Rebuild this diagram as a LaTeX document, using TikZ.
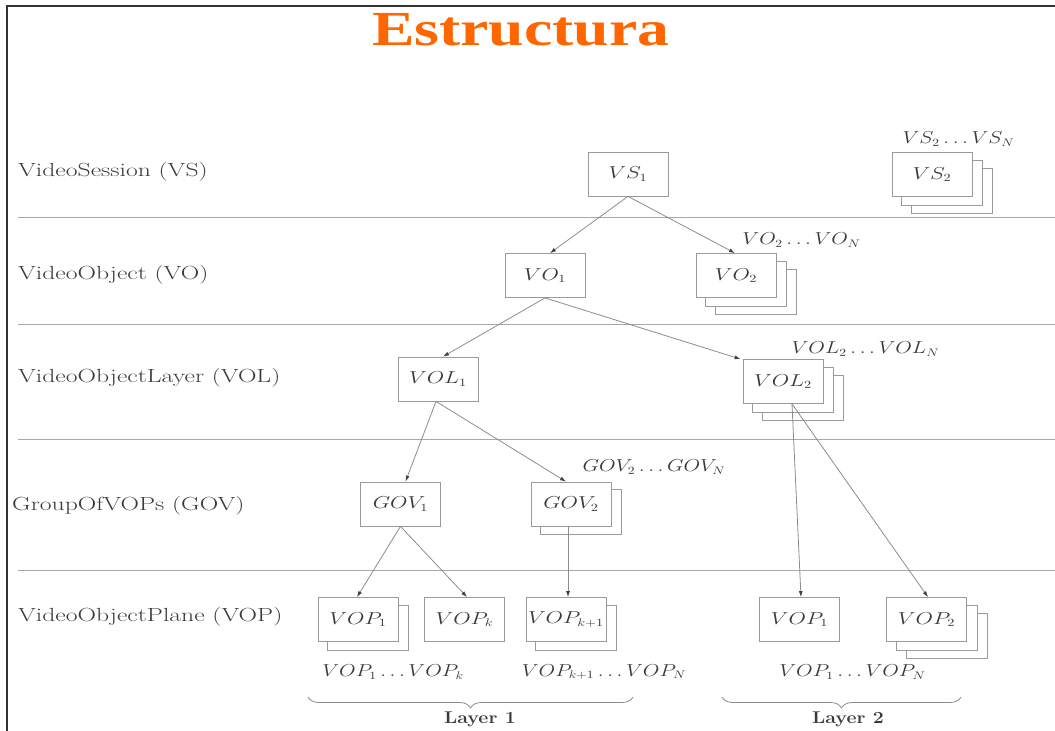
\documentclass[tikz,border=0pt]{standalone}
\usepackage{fontspec}
\usepackage{graphicx}
\newfontfamily\titlefont{Liberation Serif}
\usetikzlibrary{arrows.meta,decorations.pathreplacing,backgrounds}

\definecolor{titleorange}{HTML}{FF6600}
\definecolor{inkgray}{HTML}{3A3A3A}
\definecolor{rulegray}{HTML}{A8A8A8}
\definecolor{boxgray}{HTML}{9A9A9A}
\definecolor{linkgray}{HTML}{8C8C8C}
\definecolor{framegray}{HTML}{333333}

% horizontally widened text
\newcommand\wideText[2][1.3]{\scalebox{#1}[1]{#2}}

\tikzset{
  level/.style={anchor=west, inner sep=0pt, text=inkgray, font=\fontsize{19}{19}\selectfont},
  unit/.style={draw=boxgray, line width=0.8pt, fill=white, minimum width=80pt,
               minimum height=44pt, inner sep=0pt, text=inkgray, font=\fontsize{16}{16}\selectfont},
  backsheet/.style={draw=boxgray, line width=0.8pt, fill=white},
  spanlabel/.style={inner sep=0pt, text=inkgray, font=\fontsize{16}{16}\selectfont},
  sep/.style={draw=rulegray, line width=0.8pt},
  link/.style={draw=linkgray, line width=0.8pt, -{Latex[length=6pt,width=4pt,color=black!75]}},
  layerbrace/.style={draw=linkgray, line width=0.8pt, decorate,
                     decoration={brace, mirror, amplitude=11pt}},
  layertext/.style={inner sep=0pt, text=inkgray, font=\bfseries\fontsize{17}{17}\selectfont},
}

\begin{document}
\begin{tikzpicture}[x=1pt,y=-1pt]
\useasboundingbox (0,0) rectangle (1055,731);

% frame
\draw[framegray, line width=2pt] (7,731) -- (7,5.5) -- (1055,5.5);

% title
\node[anchor=base west, inner sep=0pt, text=titleorange,
      font=\titlefont\bfseries\fontsize{49}{49}\selectfont] (title) at (372,45) {\wideText{Estructura}};

% level names
\node[level] (nvs)  at (18,172) {\wideText[1.35]{VideoSession (VS)}};
\node[level] (nvo)  at (18,275) {\wideText[1.35]{VideoObject (VO)}};
\node[level] (nvol) at (18,378) {\wideText[1.35]{VideoObjectLayer (VOL)}};
\node[level] (ngov) at (12,506) {\wideText[1.35]{GroupOfVOPs (GOV)}};
\node[level] (nvop) at (18,617) {\wideText[1.35]{VideoObjectPlane (VOP)}};

% level separators
\foreach \yy in {217,324,439,570}
  \draw[sep] (18,\yy) -- (1055,\yy);

% units
\node[unit] (vs1)   at (628,174)   {\wideText{$VS_1$}};
\node[unit] (vs2)   at (932,174.5) {\wideText{$VS_2$}};
\node[unit] (vo1)   at (545,275.5) {\wideText{$VO_1$}};
\node[unit] (vo2)   at (736,275.5) {\wideText{$VO_2$}};
\node[unit] (vol1)  at (438,379)   {\wideText{$VOL_1$}};
\node[unit] (vol2)  at (783,381.5) {\wideText{$VOL_2$}};
\node[unit] (gov1)  at (400.5,504) {\wideText{$GOV_1$}};
\node[unit] (gov2)  at (571,504)   {\wideText{$GOV_2$}};
\node[unit] (vop1)  at (358,619.5) {\wideText{$VOP_1$}};
\node[unit] (vopk)  at (464.5,619.5) {\wideText{$VOP_k$}};
\node[unit] (vopk1) at (566,619.5) {\wideText{$VOP_{k+1}$}};
\node[unit] (wvop1) at (799.5,619.5) {\wideText{$VOP_1$}};
\node[unit] (wvop2) at (926.5,619.5) {\wideText{$VOP_2$}};

% sheets stacked behind the units
\begin{scope}[on background layer]
  \foreach \u/\n in {vs2/2,vo2/2,vol2/2,gov2/1,vop1/1,vopk1/1,wvop2/2}{
    \foreach \k in {\n,...,1}
      \draw[backsheet] ([shift={(10*\k,8*\k)}]\u.south west) rectangle ([shift={(10*\k,8*\k)}]\u.north east);
  }
\end{scope}

% ranges
\node[spanlabel] (rvs)  at (958.5,139) {\wideText[1.24]{$VS_2\ldots VS_N$}};
\node[spanlabel] (rvo)  at (801.5,240) {\wideText[1.24]{$VO_2\ldots VO_N$}};
\node[spanlabel] (rvol) at (865.5,349) {\wideText[1.24]{$VOL_2\ldots VOL_N$}};
\node[spanlabel] (rgov) at (654,467)   {\wideText[1.24]{$GOV_2\ldots GOV_N$}};
\node[spanlabel] (rva)  at (393,672)   {\wideText[1.24]{$VOP_1\ldots VOP_k$}};
\node[spanlabel] (rvb)  at (604,672)   {\wideText[1.24]{$VOP_{k+1}\ldots VOP_N$}};
\node[spanlabel] (rvc)  at (852.5,672) {\wideText[1.24]{$VOP_1\ldots VOP_N$}};

% links
\draw[link] (vs1.south) -- ([xshift=5]vo1.north);
\draw[link] (vs1.south) -- ([xshift=-1]vo2.north);
\draw[link] (vo1.south) -- ([xshift=5]vol1.north);
\draw[link] (vo1.south) -- ([xshift=-2]vol2.north west);
\draw[link] ([xshift=-2]vol1.south) -- ([xshift=5]gov1.north);
\draw[link] ([xshift=-2]vol1.south) -- ([xshift=-5]gov2.north);
\draw[link] ([xshift=9]vol2.south) -- ([xshift=1.5]wvop1.north);
\draw[link] ([xshift=9]vol2.south) -- ([xshift=1.5]wvop2.north);
\draw[link] (gov1.south) -- ([xshift=-1]vop1.north);
\draw[link] (gov1.south) -- ([xshift=2.5]vopk.north);
\draw[link] ([xshift=-3]gov2.south) -- ([xshift=2]vopk1.north);

% layers
\coordinate (la) at (308,697);
\coordinate (lb) at (633,697);
\coordinate (lc) at (722,697);
\coordinate (ld) at (961,697);
\draw[layerbrace] (la) -- (lb);
\draw[layerbrace] (lc) -- (ld);
\node[layertext] (layer1) at (480,719) {\wideText[1.15]{Layer 1}};
\node[layertext] (layer2) at (848,719) {\wideText[1.15]{Layer 2}};
\end{tikzpicture}
\end{document}
